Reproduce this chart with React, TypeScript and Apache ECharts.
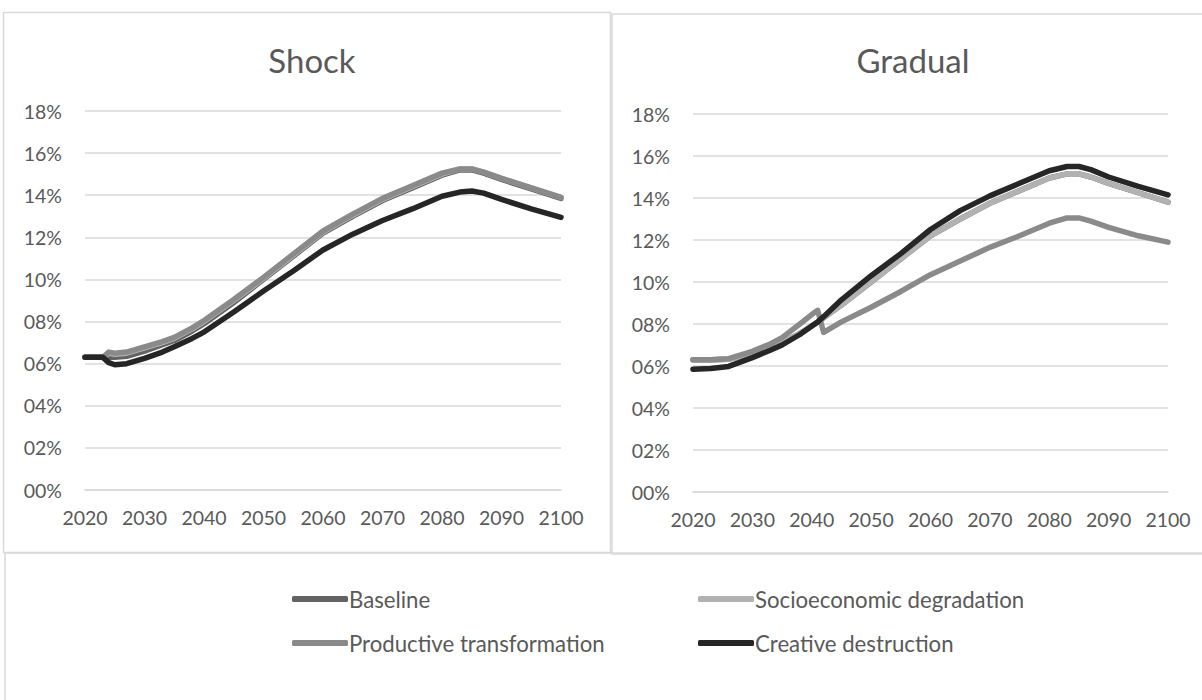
import React, { useEffect, useRef } from "react";
import * as echarts from "echarts";

const shockYears = [2020, 2023, 2024, 2025, 2027, 2030, 2033, 2035, 2038, 2040, 2045, 2050, 2055, 2060, 2065, 2070, 2075, 2080, 2083, 2085, 2087, 2090, 2095, 2100];
const shockBaseline = [6.3, 6.3, 6.3, 6.3, 6.35, 6.6, 6.9, 7.1, 7.55, 7.9, 8.9, 10.0, 11.1, 12.2, 13.0, 13.75, 14.35, 14.95, 15.2, 15.2, 15.05, 14.75, 14.3, 13.85];
const shockSocio = [6.3, 6.3, 6.5, 6.45, 6.5, 6.75, 7.0, 7.2, 7.65, 8.0, 9.0, 10.05, 11.15, 12.25, 13.05, 13.8, 14.4, 15.0, 15.25, 15.25, 15.1, 14.8, 14.35, 13.9];
const shockProductive = [6.3, 6.3, 6.55, 6.5, 6.55, 6.8, 7.05, 7.25, 7.7, 8.05, 9.05, 10.1, 11.2, 12.3, 13.1, 13.85, 14.45, 15.05, 15.25, 15.25, 15.1, 14.8, 14.35, 13.9];
const shockCreative = [6.3, 6.3, 6.05, 5.95, 6.0, 6.25, 6.55, 6.8, 7.2, 7.5, 8.45, 9.45, 10.4, 11.4, 12.15, 12.8, 13.35, 13.95, 14.15, 14.2, 14.1, 13.8, 13.35, 12.95];

const gradualYears = [2020, 2023, 2026, 2030, 2033, 2035, 2038, 2040, 2041, 2042, 2045, 2050, 2055, 2060, 2065, 2070, 2075, 2080, 2083, 2085, 2087, 2090, 2095, 2100];
const gradualBaseline = [6.3, 6.3, 6.32, 6.6, 6.9, 7.1, 7.55, 7.9, 8.1, 8.3, 8.9, 10.0, 11.1, 12.2, 13.0, 13.75, 14.35, 14.95, 15.15, 15.15, 15.0, 14.7, 14.25, 13.8];
const gradualSocio = [6.3, 6.3, 6.32, 6.6, 6.9, 7.1, 7.55, 7.9, 8.1, 8.3, 8.9, 10.0, 11.1, 12.2, 13.0, 13.75, 14.35, 14.95, 15.15, 15.15, 15.0, 14.7, 14.25, 13.8];
const gradualProductive = [6.3, 6.3, 6.35, 6.7, 7.05, 7.35, 8.0, 8.45, 8.65, 7.6, 8.1, 8.8, 9.55, 10.35, 11.0, 11.65, 12.2, 12.8, 13.05, 13.05, 12.9, 12.6, 12.2, 11.9];
const gradualCreative = [5.85, 5.88, 5.98, 6.4, 6.75, 7.0, 7.5, 7.9, 8.1, 8.35, 9.15, 10.3, 11.35, 12.5, 13.4, 14.1, 14.7, 15.3, 15.5, 15.5, 15.35, 15.0, 14.55, 14.15];

const seriesNames = ["Baseline", "Socioeconomic degradation", "Productive transformation", "Creative destruction"];
const seriesColors = ["#636363", "#b2b2b2", "#8a8a8a", "#262626"];
const panelTitles = ["Shock", "Gradual"];
const xTicks = { min: 2020, max: 2100, interval: 10 };
const yTicks = { min: 0, max: 18, interval: 2 };

const FONT = "Lato, 'Noto Sans', sans-serif";
const TXT = "#595959";
const GRID_C = "#d9d9d9";

function pairs(years: number[], vals: number[]) {
  return years.map((y, i) => [y, vals[i]]);
}

export default function App() {
  const ref = useRef<HTMLDivElement>(null);
  useEffect(() => {
    document.body.style.margin = "0";
    const chart = echarts.init(ref.current!, undefined, { renderer: "svg" });
    const grids = [
      { left: 85, top: 111, width: 476, height: 379 },
      { left: 693, top: 114, width: 475, height: 378 },
    ];
    const xAxis = [0, 1].map((i) => ({
      type: "value",
      gridIndex: i,
      min: xTicks.min,
      max: xTicks.max,
      interval: xTicks.interval,
      axisLine: { show: true, lineStyle: { color: GRID_C, width: 1.5 } },
      axisTick: { show: false },
      splitLine: { show: false },
      axisLabel: { color: TXT, fontSize: 19.5, fontFamily: FONT, margin: 17, formatter: (v: number) => String(v) },
    }));
    const yAxis = [0, 1].map((i) => ({
      type: "value",
      gridIndex: i,
      min: yTicks.min,
      max: yTicks.max,
      interval: yTicks.interval,
      axisLine: { show: false },
      axisTick: { show: false },
      splitLine: { show: true, lineStyle: { color: GRID_C, width: 1.5 } },
      axisLabel: {
        color: TXT,
        fontSize: 19.5,
        fontFamily: FONT,
        margin: 23,
        formatter: (v: number) => (v < 10 ? "0" : "") + v + "%",
      },
    }));
    const shockData = [shockBaseline, shockSocio, shockProductive, shockCreative];
    const gradualData = [gradualBaseline, gradualSocio, gradualProductive, gradualCreative];
    const mk = (name: string, idx: number, data: number[][], color: string) => ({
      type: "line",
      name,
      xAxisIndex: idx,
      yAxisIndex: idx,
      data,
      showSymbol: false,
      symbol: "none",
      lineStyle: { color, width: 5.5, cap: "round", join: "round" },
      itemStyle: { color },
      z: 2,
    });
    const series: any[] = [];
    seriesNames.forEach((n, k) => {
      series.push(mk(n, 0, pairs(shockYears, shockData[k]), seriesColors[k]));
    });
    seriesNames.forEach((n, k) => {
      series.push(mk(n, 1, pairs(gradualYears, gradualData[k]), seriesColors[k]));
    });
    const legendPos = [
      { left: 287, top: 583 },
      { left: 693, top: 583 },
      { left: 287, top: 627 },
      { left: 693, top: 627 },
    ];
    const legend = seriesNames.map((n, k) => ({
      data: [n],
      left: legendPos[k].left,
      top: legendPos[k].top,
      icon: "roundRect",
      itemWidth: 56,
      itemHeight: 6,
      itemGap: 0,
      textStyle: { color: TXT, fontSize: 22.2, fontFamily: FONT, padding: [0, 0, 0, -4] },
      selectedMode: false,
    }));
    chart.setOption({
      animation: false,
      backgroundColor: "#ffffff",
      title: [
        { text: panelTitles[0], left: 307, top: 38, textAlign: "center", textStyle: { color: TXT, fontSize: 33, fontWeight: "normal", fontFamily: FONT } },
        { text: panelTitles[1], left: 908, top: 38, textAlign: "center", textStyle: { color: TXT, fontSize: 33, fontWeight: "normal", fontFamily: FONT } },
      ],
      grid: grids,
      xAxis,
      yAxis,
      legend,
      series,
      graphic: [
        { type: "rect", shape: { x: 3.5, y: 12.5, width: 607, height: 540 }, style: { fill: "none", stroke: GRID_C, lineWidth: 1.5 }, z: -1 },
        { type: "rect", shape: { x: 612, y: 14, width: 600, height: 540 }, style: { fill: "none", stroke: GRID_C, lineWidth: 1.5 }, z: -1 },
        { type: "rect", shape: { x: 5, y: 553, width: 1210, height: 200 }, style: { fill: "none", stroke: GRID_C, lineWidth: 1.5 }, z: -1 },
      ],
    });
    return () => chart.dispose();
  }, []);
  return <div ref={ref} style={{ width: 1202, height: 700 }} />;
}
